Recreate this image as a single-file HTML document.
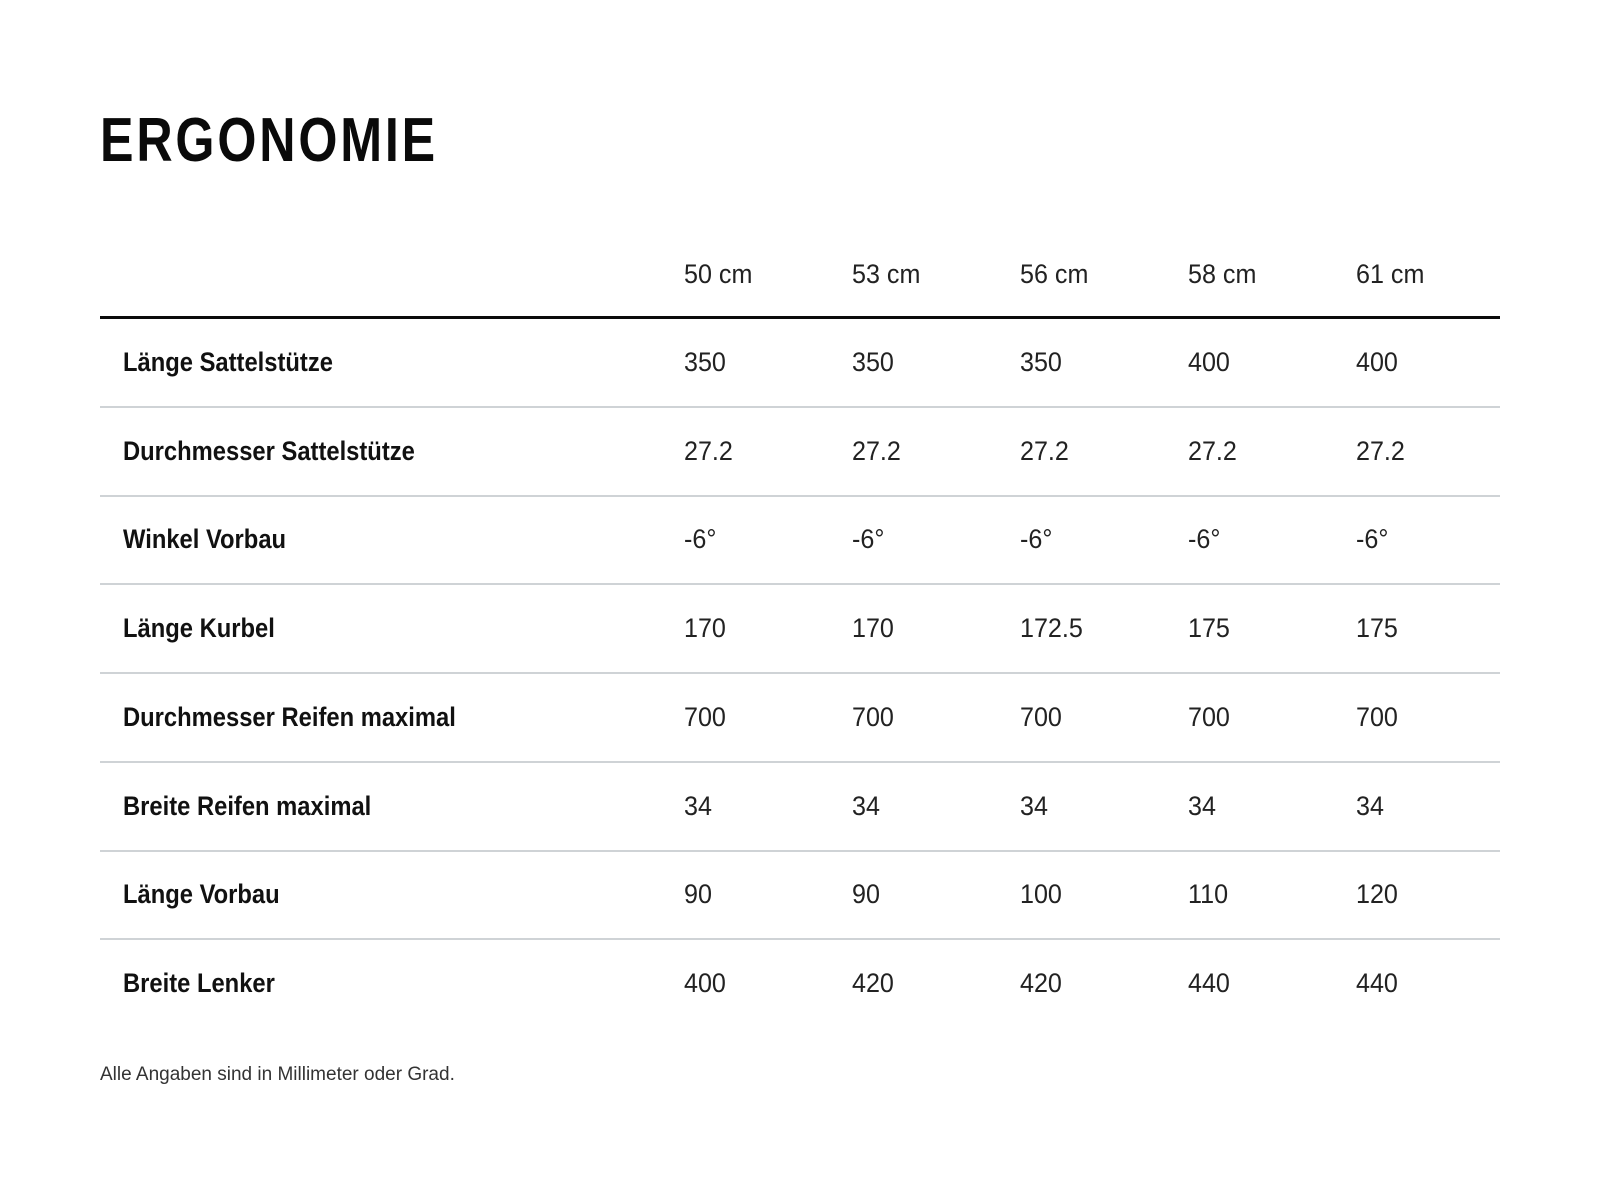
<!DOCTYPE html>
<html><head><meta charset="utf-8"><style>
html,body{margin:0;padding:0;background:#fff;width:1600px;height:1200px;overflow:hidden}
body{position:relative;font-family:"Liberation Sans Narrow","Liberation Sans",sans-serif;color:#1a1a1a}
.t{position:absolute;white-space:nowrap;line-height:1;transform-origin:0 0}
h1{position:absolute;left:100px;top:110px;margin:0;font-size:62px;font-weight:bold;letter-spacing:3.5px;line-height:1;color:#0a0a0a;transform:scaleX(0.81);transform-origin:0 0;white-space:nowrap}
.hl{position:absolute;left:100px;width:1400px;height:0}
.lab{font-weight:bold;font-size:27px;left:123px;color:#111;transform:scaleX(0.88)}
.v{font-size:27px;color:#222;transform:scaleX(0.93)}
</style></head><body>
<h1>ERGONOMIE</h1>
<div class="t v" style="left:684px;top:261px">50 cm</div>
<div class="t v" style="left:852px;top:261px">53 cm</div>
<div class="t v" style="left:1020px;top:261px">56 cm</div>
<div class="t v" style="left:1188px;top:261px">58 cm</div>
<div class="t v" style="left:1356px;top:261px">61 cm</div>
<div class="hl" style="top:316px;border-top:3px solid #0a0a0a"></div>
<div id="rows"></div>
<div class="t" style="left:100px;top:1065px;font-size:19px;color:#333">Alle Angaben sind in Millimeter oder Grad.</div>
<script>
var d=[["Länge Sattelstütze","350","350","350","400","400"],
["Durchmesser Sattelstütze","27.2","27.2","27.2","27.2","27.2"],
["Winkel Vorbau","-6°","-6°","-6°","-6°","-6°"],
["Länge Kurbel","170","170","172.5","175","175"],
["Durchmesser Reifen maximal","700","700","700","700","700"],
["Breite Reifen maximal","34","34","34","34","34"],
["Länge Vorbau","90","90","100","110","120"],
["Breite Lenker","400","420","420","440","440"]];
var xs=[684,852,1020,1188,1356],h="";
d.forEach(function(r,i){var y=349+i*88.7;
h+='<div class="t lab" style="top:'+y+'px">'+r[0]+'</div>';
for(var j=1;j<6;j++)h+='<div class="t v" style="left:'+xs[j-1]+'px;top:'+y+'px">'+r[j]+'</div>';
if(i<7)h+='<div class="hl" style="top:'+(406+i*88.7)+'px;border-top:2px solid #cfd3d6"></div>';});
document.getElementById("rows").innerHTML=h;
</script>
</body></html>
